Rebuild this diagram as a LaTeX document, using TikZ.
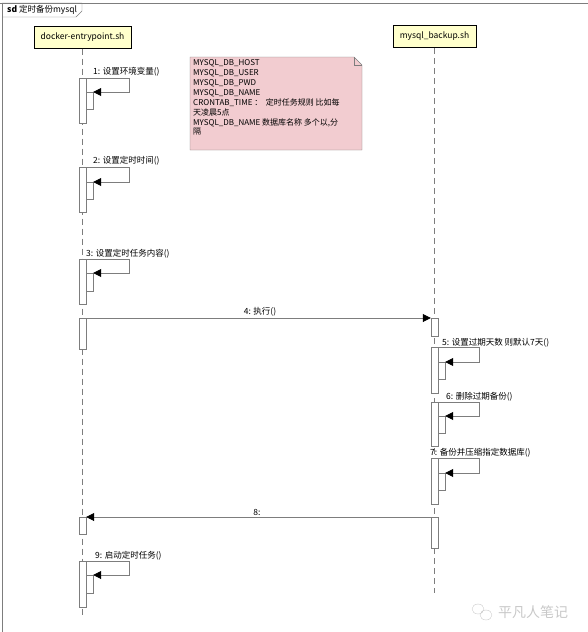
\documentclass[tikz,border=0pt]{standalone}
\usepackage{fontspec}
\setmainfont{Noto Sans CJK SC}
\usetikzlibrary{arrows.meta}
\definecolor{headfill}{RGB}{255,255,204}
\definecolor{notefill}{RGB}{242,204,208}
\definecolor{linegray}{RGB}{125,125,125}
\definecolor{markgray}{RGB}{200,200,200}

\begin{document}
\begin{tikzpicture}[x=1pt,y=-1pt,
  every node/.style={font=\fontsize{8.5}{10}\selectfont},
  head/.style={draw, line width=1pt, fill=headfill, minimum height=22pt, inner sep=2pt},
  act/.style={draw=linegray, fill=white, minimum width=7pt, inner sep=0pt, anchor=north},
  life/.style={draw=linegray, line width=.8pt, dash pattern=on 6pt off 4pt},
  msg/.style={draw=linegray, line width=.8pt, -{Triangle[length=8pt,width=8pt,color=black]}},
  lbl/.style={anchor=west, inner sep=0pt}]
  \useasboundingbox (0,0) rectangle (588,632);

  % frame and title tab
  \draw[linegray] (0,3) -- (588,3) (2,3) -- (2,632);
  \draw[linegray] (2,3) -- (82,3) -- (82,11) -- (76,17) -- (2,17);
  \node[lbl] (title) at (7,10) {\textbf{sd} 定时备份mysql};

  % lifelines
  \node[head, minimum width=97pt] (docker) at (82.5,37) {docker-entrypoint.sh};
  \node[head, minimum width=83pt] (backup) at (434.5,36.5) {mysql\_backup.sh};
  \coordinate (dend) at (82.5,617);
  \coordinate (bend) at (434.5,593);
  \draw[life] (docker) -- (dend);
  \draw[life] (backup) -- (bend);

  % note
  \draw[linegray, fill=notefill] (190,57) -- (354,57) -- (362,65) -- (362,150)
    -- (190,150) -- cycle;
  \draw[linegray] (354,57) -- (354,65) -- (362,65);
  \node[anchor=north west, align=left, inner sep=0pt,
    font=\fontsize{8}{9.9}\selectfont] (cfg) at (193,59.5)
    {MYSQL\_DB\_HOST\\MYSQL\_DB\_USER\\MYSQL\_DB\_PWD\\MYSQL\_DB\_NAME\\
     CRONTAB\_TIME ：\ \ 定时任务规则 比如每\\天凌晨5点\\
     MYSQL\_DB\_NAME 数据库名称 多个以,分\\隔};

  % 1-3: self calls on docker-entrypoint.sh
  \node[act, minimum height=45pt] (a1) at (82.5,78) {};
  \node[act, minimum height=17pt] (n1) at (89.5,92) {};
  \draw[msg] (a1.north east) -- ++(43,0) |- (n1.north east);
  \node[lbl] (m1) at (93,72) {1: 设置环境变量()};

  \node[act, minimum height=45pt] (a2) at (82.5,167) {};
  \node[act, minimum height=17pt] (n2) at (89.5,182) {};
  \draw[msg] (a2.north east) -- ++(43,0) |- (n2.north east);
  \node[lbl] (m2) at (93,161) {2: 设置定时时间()};

  \node[act, minimum height=45pt] (a3) at (82.5,259) {};
  \node[act, minimum height=18pt] (n3) at (89.5,273) {};
  \draw[msg] (a3.north east) -- ++(43,0) |- (n3.north east);
  \node[lbl] (m3) at (86,254) {3: 设置定时任务内容()};

  % 4: call
  \node[act, minimum height=31pt] (a4) at (82.5,318) {};
  \node[act, minimum height=18pt] (b4) at (434.5,318) {};
  \draw[msg] (a4.north east) -- (b4.north west);
  \node (m4) at (260,312) {4: 执行()};

  % 5-7: self calls on mysql_backup.sh
  \node[act, minimum height=46pt] (b5) at (434.5,347) {};
  \node[act, minimum height=17pt] (n5) at (441.5,362) {};
  \draw[msg] (b5.north east) -- ++(41,0) |- (n5.north east);
  \node[lbl] (m5) at (442,343) {5: 设置过期天数 则默认7天()};

  \node[act, minimum height=44pt] (b6) at (434.5,402) {};
  \node[act, minimum height=17pt] (n6) at (441.5,416) {};
  \draw[msg] (b6.north east) -- ++(41,0) |- (n6.north east);
  \node[lbl] (m6) at (446,397) {6: 删除过期备份()};

  \node[act, minimum height=46pt] (b7) at (434.5,458) {};
  \node[act, minimum height=17pt] (n7) at (441.5,473) {};
  \draw[msg] (b7.north east) -- ++(41,0) |- (n7.north east);
  \node[lbl] (m7) at (430,453) {7: 备份并压缩指定数据库()};

  % 8: return
  \node[act, minimum height=17pt] (a8) at (82.5,517) {};
  \node[act, minimum height=31pt] (b8) at (434.5,517) {};
  \draw[msg] (b8.north west) -- (a8.north east);
  \node (m8) at (257,512) {8:};

  % 9: self call
  \node[act, minimum height=46pt] (a9) at (82.5,561) {};
  \node[act, minimum height=18pt] (n9) at (89.5,575) {};
  \draw[msg] (a9.north east) -- ++(43,0) |- (n9.north east);
  \node[lbl] (m9) at (95,556) {9: 启动定时任务()};

  % watermark
  \draw[markgray] (478,609) ellipse (6pt and 5pt) (486,615) ellipse (6pt and 5pt);
  \node[lbl, text=markgray, font=\fontsize{14}{16}\selectfont] (mark) at (498,612) {平凡人笔记};
\end{tikzpicture}
\end{document}
